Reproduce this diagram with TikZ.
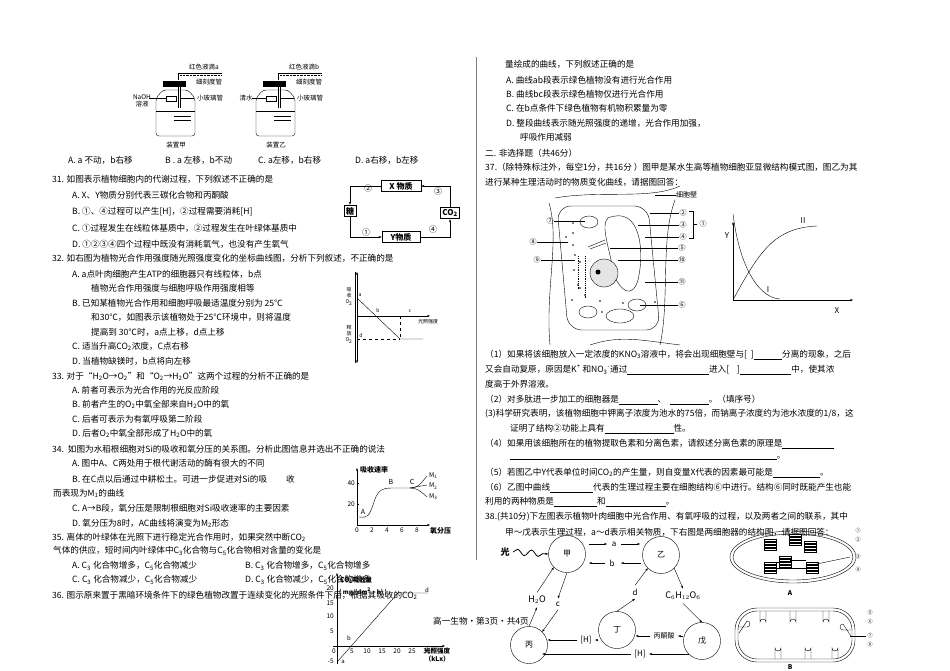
\documentclass[tikz,border=0pt]{standalone}
\usepackage{fontspec}
\setmainfont{Noto Sans CJK SC}
\usetikzlibrary{arrows.meta,decorations.pathmorphing}
\newcommand{\dn}[1]{\textsubscript{#1}}
\newcommand{\up}[1]{\textsuperscript{#1}}
\tikzset{
 tx/.style={anchor=west,inner sep=0,font=\fontsize{8.6}{10}\selectfont},
 sm/.style={inner sep=0,font=\fontsize{6.5}{7}\selectfont},
 bx/.style={draw,thick,inner sep=2pt,font=\fontsize{8}{9}\selectfont\bfseries},
 cir/.style={draw,circle,minimum size=37pt,inner sep=0,font=\fontsize{8}{9}\selectfont},
 ar/.style={-{Stealth[length=3pt]}},
}
\begin{document}
\begin{tikzpicture}[x=1pt,y=-1pt]
\useasboundingbox (0,0) rectangle (950,671);
\fill[white] (0,0) rectangle (950,671);
\draw[gray] (476,57) -- (476,560);
% ===== apparatus
\foreach \xx/\nm/\lab/\dr in {156/a/装置甲/a,256/b/装置乙/b}{
 \draw[rounded corners=3pt] (\xx,98) -- (\xx,136) -- (\xx+39,136) -- (\xx+39,98) -- (\xx+32,90) -- (\xx+7,90) -- cycle;
 \fill (\xx+7,81) rectangle (\xx+30,87);
 \draw (\xx+22,80) -- (\xx+22,73) -- (\xx+66,73);
 \draw[densely dotted] (\xx+24,75) -- (\xx+66,75);
 \draw (\xx+22,87) -- (\xx+22,108);
 \draw (\xx+24,87) -- (\xx+24,108);
 \draw (\xx+10,96) rectangle (\xx+20,101);
 \draw (\xx,111) -- (\xx+39,111);
 \draw (\xx+18,116) -- (\xx+35,116) (\xx+18,120) -- (\xx+35,120);
 \draw (\xx+24,98) -- (\xx+38,98);
 \node[sm] (lab\nm) at (\xx+20,145) {\lab};
 \node[sm,anchor=west] (dr\nm) at (\xx+33,67) {红色液滴\dr};
 \node[sm,anchor=west] (kd\nm) at (\xx+40,82) {细刻度管};
 \node[sm,anchor=west] (bl\nm) at (\xx+41,98) {小玻璃管};
}
\node[sm,align=center] (naoh) at (142,101) {NaOH\\溶液};
\draw (149,98) -- (166,98);
\node[sm] (qs) at (246,98) {清水};
\draw (252,98) -- (266,98);
% ===== left column text
\node[tx] (l0a) at (68,160) {A. a 不动，b右移};
\node[tx] (l0b) at (165,160) {B . a 左移，b不动};
\node[tx] (l0c) at (258,160) {C. a左移，b右移};
\node[tx] (l0d) at (355,160) {D. a右移，b左移};
\node[tx] (q31) at (52,179) {31. 如图表示植物细胞内的代谢过程，下列叙述不正确的是};
\node[tx] (q31a) at (72,195) {A. X、Y物质分别代表三碳化合物和丙酮酸};
\node[tx] (q31b) at (72,212) {B. ①、④过程可以产生[H]，②过程需要消耗[H]};
\node[tx] (q31c) at (72,228) {C. ①过程发生在线粒体基质中，②过程发生在叶绿体基质中};
\node[tx] (q31d) at (72,244) {D. ①②③④四个过程中既没有消耗氧气，也没有产生氧气};
\node[tx] (q32) at (52,258) {32. 如右图为植物光合作用强度随光照强度变化的坐标曲线图，分析下列叙述，不正确的是};
\node[tx] (q32a) at (72,274) {A. a点叶肉细胞产生ATP的细胞器只有线粒体，b点};
\node[tx] (q32a2) at (91,288) {植物光合作用强度与细胞呼吸作用强度相等};
\node[tx] (q32b) at (72,303) {B. 已知某植物光合作用和细胞呼吸最适温度分别为 25℃};
\node[tx] (q32b2) at (91,317) {和30℃，如图表示该植物处于25℃环境中，则将温度};
\node[tx] (q32b3) at (91,332) {提高到 30℃时，a点上移，d点上移};
\node[tx] (q32c) at (72,346) {C. 适当升高CO\dn{2}浓度，C点右移};
\node[tx] (q32d) at (72,361) {D. 当植物缺镁时，b点将向左移};
\node[tx] (q33) at (52,376) {33. 对于“H\dn{2}O→O\dn{2}”和“O\dn{2}→H\dn{2}O”这两个过程的分析不正确的是};
\node[tx] (q33a) at (72,390) {A. 前者可表示为光合作用的光反应阶段};
\node[tx] (q33b) at (72,404) {B. 前者产生的O\dn{2}中氧全部来自H\dn{2}O中的氧};
\node[tx] (q33c) at (72,419) {C. 后者可表示为有氧呼吸第二阶段};
\node[tx] (q33d) at (72,433) {D. 后者O\dn{2}中氧全部形成了H\dn{2}O中的氧};
\node[tx] (q34) at (52,449) {34.\ \ 如图为水稻根细胞对Si的吸收和氧分压的关系图。分析此图信息并选出不正确的说法};
\node[tx] (q34a) at (72,463) {A. 图中A、C两处用于根代谢活动的酶有很大的不同};
\node[tx] (q34b) at (72,479) {B. 在C点以后通过中耕松土。可进一步促进对Si的吸\hspace{2.2em}收};
\node[tx] (q34b2) at (53,493) {而表现为M\dn{1}的曲线};
\node[tx] (q34c) at (72,508) {C. A→B段，氧分压是限制根细胞对Si吸收速率的主要因素};
\node[tx] (q34d) at (72,523) {D. 氧分压为8时，AC曲线将演变为M\dn{2}形态};
\node[tx] (q35) at (52,537) {35. 离体的叶绿体在光照下进行稳定光合作用时，如果突然中断CO\dn{2}};
\node[tx] (q35b) at (53,551) {气体的供应，短时间内叶绿体中C\dn{3}化合物与C\dn{5}化合物相对含量的变化是};
\node[tx] (q35oa) at (72,566) {A. C\dn{3} 化合物增多，C\dn{5}化合物减少};
\node[tx] (q35ob) at (245,566) {B. C\dn{3} 化合物增多，C\dn{5}化合物增多};
\node[tx] (q35oc) at (72,580) {C. C\dn{3} 化合物减少，C\dn{5}化合物减少};
\node[tx] (q35od) at (245,580) {D. C\dn{3} 化合物减少，C\dn{5}化合物增多};
\node[tx] (q36) at (52,595) {36. 图示原来置于黑暗环境条件下的绿色植物改置于连续变化的光照条件下后，根据其吸收的CO\dn{2}};
\node[tx] (foot) at (433,621) {高一生物·第3页·共4页};
% ===== fig 31
\node[bx,minimum width=40pt] (X) at (401,186) {X 物质};
\node[bx] (tang) at (350,211) {糖};
\node[bx] (co2) at (450,213) {CO\dn{2}};
\node[bx,minimum width=38pt] (Y) at (401,237) {Y物质};
\draw[ar] (X.west) -| (tang.north);
\draw[ar] (tang.south) |- (Y.west);
\draw[ar] (Y.east) -| (co2.south);
\draw[ar] (co2.north) |- (X.east);
\node[sm,font=\fontsize{8}{9}\selectfont] (c2) at (368,188) {②};
\node[sm,font=\fontsize{8}{9}\selectfont] (c3) at (438,191) {③};
\node[sm,font=\fontsize{8}{9}\selectfont] (c1) at (366,232) {①};
\node[sm,font=\fontsize{8}{9}\selectfont] (c4) at (433,229) {④};
% ===== fig 32
\coordinate (o32) at (357,316);
\draw[ar] (357,316) -- (357,272);
\draw[ar] (357,316) -- (357,363);
\draw (355,272) -- (355,363);
\draw[ar] (o32) -- (430,316);
\coordinate (pa) at (357,298);
\coordinate (pc) at (400,339);
\draw (pa) -- (pc) -- (423,339);
\draw[dashed] (400,316) -- (pc);
\draw[dashed] (357,339) -- (pc);
\node[sm,font=\fontsize{5}{5}\selectfont] (pla) at (360,295) {a};
\node[sm,font=\fontsize{5}{5}\selectfont] (plb) at (378,311) {b};
\node[sm,font=\fontsize{5}{5}\selectfont] (plc) at (410,311) {c};
\node[sm,font=\fontsize{5}{5}\selectfont] (pld) at (361,336) {d};
\node[sm,font=\fontsize{5}{6}\selectfont,align=center] (xs) at (349,297) {吸\\收\\O\dn{2}};
\node[sm,font=\fontsize{5}{6}\selectfont,align=center] (sf) at (349,334) {释\\放\\O\dn{2}};
\node[sm,font=\fontsize{5}{5}\selectfont] (gz) at (428,322) {光照强度};
% ===== fig 34
\draw[ar] (357,525) -- (357,468);
\draw[ar] (357,525) -- (430,525);
\node[sm,anchor=west,font=\fontsize{7}{8}\selectfont\bfseries] (xssl) at (360,470) {吸收速率};
\foreach \v/\yy in {40/483,20/504}{\node[sm,anchor=east] (yt\v) at (355,\yy) {\v}; \draw (357,\yy) -- (359,\yy);}
\foreach \v in {0,2,4,6,8}{\node[sm] (xt\v) at (357+\v*7.5,530) {\v};}
\draw (359,517) .. controls (368,518) and (369,516) .. (373,505) .. controls (377,491) and (381,488) .. (392,488) -- (410,488);
\draw (410,488) .. controls (418,487) .. (427,476);
\draw (410,488) -- (427,485);
\draw (410,488) .. controls (418,489) .. (427,497);
\node[sm,font=\fontsize{7}{8}\selectfont] (pA) at (363,512) {A};
\node[sm,font=\fontsize{7}{8}\selectfont] (pB) at (391,482) {B};
\node[sm,font=\fontsize{7}{8}\selectfont] (pC) at (412,482) {C};
\node[sm,anchor=west] (m1) at (429,476) {M\dn{1}};
\node[sm,anchor=west] (m2) at (429,486) {M\dn{2}};
\node[sm,anchor=west] (m3) at (429,497) {M\dn{3}};
\node[sm,anchor=west,font=\fontsize{7}{8}\selectfont\bfseries] (yfy) at (430,531) {氧分压};
% ===== fig 36
\draw[ar] (337,664) -- (337,573);
\draw[ar] (333,646) -- (445,646);
\foreach \v/\yy in {20/588,15/603,10/616,5/631}{\node[sm,anchor=east] (y36\v) at (334,\yy) {\v};}
\node[sm,anchor=east] (y36m) at (334,661) {-5};
\node[sm,anchor=east] (y360) at (336,651) {0};
\foreach \v in {5,10,15,20,25,30}{\node[sm] (x36\v) at (337+\v*3,651) {\v};}
\draw (338,661) -- (398,593) -- (428,593);
\node[sm,font=\fontsize{6}{7}\selectfont\itshape] (pa36) at (343,662) {a};
\node[sm,font=\fontsize{6}{7}\selectfont\itshape] (pb36) at (349,638) {b};
\node[sm,font=\fontsize{6}{7}\selectfont\itshape] (pd36) at (427,590) {d};
\node[sm,anchor=west,font=\fontsize{6.5}{7}\selectfont\bfseries] (co2x) at (340,580) {CO\dn{2}吸收量};
\node[sm,anchor=west,font=\fontsize{6}{7}\selectfont\bfseries] (unit) at (339,592) {( mg/(dm\up{2}·h) )};
\node[sm,anchor=west,font=\fontsize{6.5}{8}\selectfont\bfseries,align=center] (gz36) at (424,655) {光照强度\\（kLx）};
% ===== right column text
\node[tx] (r0) at (505,64) {量绘成的曲线，下列叙述正确的是};
\node[tx] (r0a) at (506,80) {A. 曲线\textit{ab}段表示绿色植物没有进行光合作用};
\node[tx] (r0b) at (506,94) {B. 曲线\textit{bc}段表示绿色植物仅进行光合作用};
\node[tx] (r0c) at (506,108) {C. 在\textit{b}点条件下绿色植物有机物积累量为零};
\node[tx] (r0d) at (506,123) {D. 整段曲线表示随光照强度的递增，光合作用加强，};
\node[tx] (r0d2) at (520,137) {呼吸作用减弱};
\node[tx] (r2) at (485,153) {二. 非选择题（共46分）};
\node[tx] (q37) at (485,167) {37.（除特殊标注外，每空1分，共16分 ）图甲是某水生高等植物细胞亚显微结构模式图，图乙为其};
\node[tx] (q37b) at (485,182) {进行某种生理活动时的物质变化曲线，请据图回答：};
\node[tx] (s1) at (485,355) {（1）如果将该细胞放入一定浓度的KNO\dn{3}溶液中，将会出现细胞壁与[\ \ ]\underline{\hspace{3.3em}}分离的现象，之后};
\node[tx] (s1b) at (485,370) {又会自动复原，原因是K\up{+} 和NO\dn{3}\up{-}通过\underline{\hspace{9.5em}}进入[\ \ \ \ ]\underline{\hspace{6em}}中，使其浓};
\node[tx] (s1c) at (485,384) {度高于外界溶液。};
\node[tx] (s2) at (485,400) {（2）对多肽进一步加工的细胞器是\underline{\hspace{4.5em}}、\ \ \underline{\hspace{4.5em}}。（填序号）};
\node[tx] (s3) at (485,414) {(3)科学研究表明，该植物细胞中钾离子浓度为池水的75倍，而钠离子浓度约为池水浓度的1/8，这};
\node[tx] (s3b) at (510,429) {证明了结构②功能上具有\underline{\hspace{8em}}性。};
\node[tx] (s4) at (485,444) {（4）如果用该细胞所在的植物提取色素和分离色素，请叙述分离色素的原理是\underline{\hspace{6em}}};
\node[tx] (s4b) at (510,458) {\underline{\hspace{31em}}。};
\node[tx] (s5) at (485,473) {（5）若图乙中Y代表单位时间CO\dn{2}的产生量，则自变量X代表的因素最可能是\underline{\hspace{5.5em}}。};
\node[tx] (s6) at (485,488) {（6）乙图中曲线\underline{\hspace{5em}}代表的生理过程主要在细胞结构⑥中进行。结构⑥同时既能产生也能};
\node[tx] (s6b) at (485,502) {利用的两种物质是\underline{\hspace{5em}}和\underline{\hspace{7em}}。};
\node[tx] (q38) at (485,517) {38.(共10分)下左图表示植物叶肉细胞中光合作用、有氧呼吸的过程，以及两者之间的联系，其中};
\node[tx] (q38b) at (505,532) {甲～戊表示生理过程，a～d表示相关物质，下右图是两细胞器的结构图，请据图回答：};
% ===== cell diagram
\draw (550,345) .. controls (545,290) and (560,240) .. (549,203);
\draw (555,198) .. controls (600,190) and (650,200) .. (680,186);
\draw (660,345) .. controls (670,300) and (660,240) .. (675,200);
\draw (590,345) .. controls (620,335) and (640,340) .. (680,345);
\draw[rounded corners=14pt] (557,206) -- (648,206) -- (660,330) -- (568,330) -- cycle;
\draw (608,218) .. controls (640,205) and (645,250) .. (638,280) .. controls (632,300) and (620,290) .. (614,275) .. controls (610,250) and (600,225) .. (608,218);
\draw[fill=gray!20] (604,273) circle (14);
\fill (598,272) circle (2.5);
\draw (589,222) ellipse (9 and 6);
\draw (588,312) ellipse (9 and 6);
\draw (620,316) ellipse (14 and 7);
\draw (637,305) ellipse (9 and 6);
\foreach \px/\py in {573/223, 573/233, 566/237, 573/245, 575/255, 580/262, 574/270, 578/285, 572/300, 580/288, 600/301, 602/312, 585/295, 623/303, 655/302}{\fill (\px,\py) circle (0.9);}
\draw[densely dotted,thick] (578,256) -- (578,290);
\draw[densely dotted,thick] (585,256) -- (585,298);
\draw (588,247) -- (605,240) (590,249) -- (606,243);
\draw (655,195) -- (676,195);
\node[sm,anchor=west,font=\fontsize{7}{8}\selectfont] (wall) at (676,195) {细胞壁};
\node[sm,font=\fontsize{7}{8}\selectfont] (n2) at (683,213) {②};
\node[sm,font=\fontsize{7}{8}\selectfont] (n3) at (683,225) {③};
\node[sm,font=\fontsize{7}{8}\selectfont] (n4) at (683,237) {④};
\node[sm,font=\fontsize{7}{8}\selectfont] (n1) at (703,224) {①};
\draw (689,211) -- (693,211) -- (693,238) -- (689,238) (693,224) -- (697,224);
\node[sm,font=\fontsize{7}{8}\selectfont] (n5) at (682,248) {⑤};
\node[sm,font=\fontsize{7}{8}\selectfont] (n10) at (682,260) {⑩};
\node[sm,font=\fontsize{7}{8}\selectfont] (n11) at (682,282) {⑪};
\node[sm,font=\fontsize{7}{8}\selectfont] (n6) at (682,305) {⑥};
\node[sm,font=\fontsize{7}{8}\selectfont] (n7) at (550,221) {⑦};
\node[sm,font=\fontsize{7}{8}\selectfont] (n8) at (533,242) {⑧};
\node[sm,font=\fontsize{7}{8}\selectfont] (n9) at (537,260) {⑨};
\draw (650,213) -- (n2.west) (638,225) -- (n3.west) (645,237) -- (n4.west) (610,248) -- (n5.west) (618,260) -- (n10.west) (645,282) -- (n11.west) (640,305) -- (n6.west);
\draw (n7.east) -- (585,221) (n8.east) -- (568,242) (n9.east) -- (575,260);
% graph 乙
\draw[ar] (733,300) -- (733,222);
\draw[ar] (733,300) -- (853,300);
\node[sm,font=\fontsize{8}{9}\selectfont] (gY) at (727,236) {Y};
\node[sm,font=\fontsize{8}{9}\selectfont] (gX) at (837,311) {X};
\draw (733,300) .. controls (760,250) and (775,228) .. (817,226);
\draw (733,214) .. controls (740,270) and (760,298) .. (780,299);
\node[sm,font=\fontsize{8}{9}\selectfont] (gI) at (768,290) {I};
\node[sm,font=\fontsize{8}{9}\selectfont] (gII) at (803,221) {II};
% ===== fig 38
\node[cir] (jia) at (567,554) {甲};
\node[cir] (yi) at (661,555) {乙};
\node[cir] (bing) at (529,645) {丙};
\node[cir] (ding) at (617,630) {丁};
\node[cir] (wu) at (702,641) {戊};
\node[font=\fontsize{9}{10}\selectfont\bfseries] (guang) at (505,552) {光};
\draw[ar,thick,decorate,decoration={snake,amplitude=3pt,segment length=14pt,post length=5pt}] (guang.east) -- (jia.west);
\draw[ar] (589,544) -- (607,544);
\node[font=\fontsize{8}{9}\selectfont] (la) at (614,544) {a};
\draw[ar] (621,544) -- (640,544);
\draw[ar] (641,563) -- (621,563);
\node[font=\fontsize{8}{9}\selectfont] (lb) at (612,563) {b};
\draw[ar] (605,563) -- (589,563);
\node[font=\fontsize{9}{10}\selectfont] (h2o) at (537,600) {H$_2$O};
\node[font=\fontsize{8}{9}\selectfont] (lc) at (558,604) {c};
\node[font=\fontsize{8}{9}\selectfont] (ld) at (635,592) {d};
\node[font=\fontsize{9}{10}\selectfont] (glc) at (683,596) {C$_6$H$_{12}$O$_6$};
\draw[ar] (h2o.north) -- (jia.south west);
\draw[ar] (bing.north) -- (h2o.south);
\draw[ar] (jia.south) -- (lc.north);
\draw[ar] (lc.south) -- (bing.north east);
\draw[ar] (ding.north) -- (ld.south);
\draw[ar] (ld.north) -- (yi.south west);
\draw[ar] (yi.south east) -- (glc.north);
\draw[ar] (glc.south) -- (wu.north);
\node[font=\fontsize{7}{8}\selectfont] (bty) at (664,636) {丙酮酸};
\draw[ar] (wu.west |- bty) -- (bty.east);
\draw[ar] (bty.west) -- (ding.east |- bty);
\node[font=\fontsize{8}{9}\selectfont] (h1) at (586,640) {[H]};
\draw[ar] (ding.west |- h1) -- (h1.east);
\draw[ar] (h1.west) -- (bing.east |- h1);
\node[font=\fontsize{8}{9}\selectfont] (h2) at (640,654) {[H]};
\draw[ar] (wu.south west |- h2) -- (h2.east);
\draw[ar] (h2.west) -- (bing.south east |- h2);
% organelle A
\draw (793,557) ellipse (63 and 26);
\draw (793,557) ellipse (60 and 23);
\foreach \gx/\gy in {770/545, 795/540, 810/547, 785/562, 770/568, 812/568}{
 \foreach \k in {0,3,6,9}{\draw[fill=white] (\gx-6,\gy-6+\k) rectangle (\gx+6,\gy-4+\k);}}
\draw (776,562) -- (780,562) (790,560) -- (806,560) (776,568) -- (806,568);
\node[sm] (oA) at (790,593) {\bfseries A};
\foreach \i/\yy in {①/531,②/540,③/557,④/570}{\node[sm,font=\fontsize{5}{6}\selectfont] (oa\yy) at (858,\yy) {\i};}
\draw (812,565) -- (850,557);
% organelle B
\draw[rounded corners=22pt] (735,608) rectangle (855,662);
\draw[rounded corners=19pt] (738,611) rectangle (852,659);
\foreach \cx in {760,790,823}{\draw (\cx,611) -- (\cx,622) arc (180:360:3) -- (\cx+6,611);}
\foreach \cx in {775,805,832}{\draw (\cx,659) -- (\cx,648) arc (180:0:3) -- (\cx+6,659);}
\draw (739,627) -- (747,627) arc (90:-90:3) -- (739,633);
\draw (851,630) -- (843,630) arc (90:270:3) -- (851,636);
\node[sm] (oB) at (790,667) {\bfseries B};
\foreach \i/\yy in {⑤/613,⑥/622,⑦/636,⑧/645}{\node[sm,font=\fontsize{5}{6}\selectfont] (ob\yy) at (870,\yy) {\i};}
\draw (850,636) -- (866,636);
\end{tikzpicture}
\end{document}
